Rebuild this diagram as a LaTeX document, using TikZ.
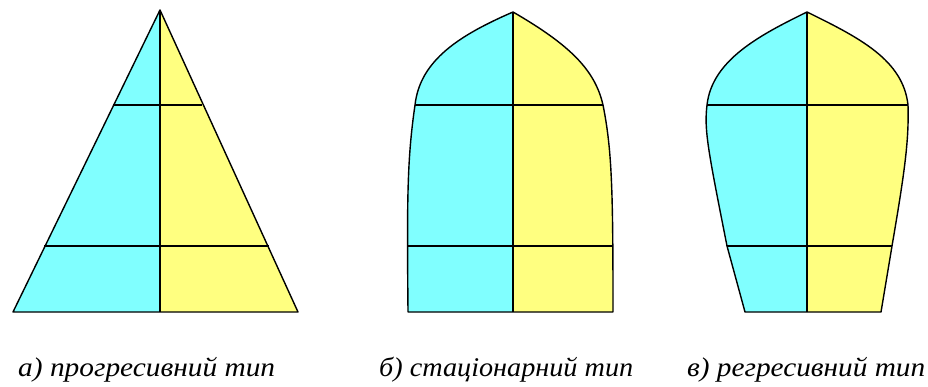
\documentclass[tikz,border=0pt]{standalone}
\usepackage{fontspec}
\setmainfont{Liberation Serif}
\definecolor{cyanfill}{HTML}{80FFFF}
\definecolor{yellowfill}{HTML}{FFFF80}
\newcommand{\fitcap}[2]{\resizebox{#1}{\height}{#2}}
\begin{document}
\begin{tikzpicture}[x=1pt,y=-1pt,
  outline/.style={black,line width=1.4pt,line join=round},
  divider/.style={black,line width=2pt},
  caption/.style={font=\fontsize{27}{30}\selectfont\itshape,inner sep=0pt,anchor=base west}]
\useasboundingbox (0,0) rectangle (928,387);
% a) progressive
\fill[cyanfill] (160,10) -- (13,312) -- (160,312) -- cycle;
\fill[yellowfill] (160,10) -- (298,312) -- (160,312) -- cycle;
\draw[divider] (113,105) -- (202,105);
\draw[divider] (44,246) -- (269,246);
\draw[divider] (160,10) -- (160,312);
\draw[outline] (160,10) -- (13,312) -- (298,312) -- cycle;
% b) stationary
\fill[cyanfill] (513,12) .. controls (460,35) and (420,60) .. (415,105)
  .. controls (407,160) and (407,200) .. (408,312) -- (513,312) -- cycle;
\fill[yellowfill] (513,12) .. controls (570,45) and (595,70) .. (603,105)
  .. controls (612,150) and (613,190) .. (613,312) -- (513,312) -- cycle;
\draw[divider] (415,105) -- (603,105);
\draw[divider] (407,246) -- (613,246);
\draw[divider] (513,12) -- (513,312);
\draw[outline] (513,12) .. controls (460,35) and (420,60) .. (415,105)
  .. controls (407,160) and (407,200) .. (408,312) -- (613,312)
  .. controls (613,190) and (612,150) .. (603,105)
  .. controls (595,70) and (570,45) .. (513,12) -- cycle;
% c) regressive
\fill[cyanfill] (807,12) .. controls (760,35) and (712,60) .. (707,105)
  .. controls (704,130) and (708,150) .. (727,246) -- (745,312) -- (807,312) -- cycle;
\fill[yellowfill] (807,12) .. controls (860,38) and (903,60) .. (908,105)
  .. controls (909,140) and (905,170) .. (892,246) -- (881,312) -- (807,312) -- cycle;
\draw[divider] (707,105) -- (908,105);
\draw[divider] (727,246) -- (892,246);
\draw[divider] (807,12) -- (807,312);
\draw[outline] (807,12) .. controls (760,35) and (712,60) .. (707,105)
  .. controls (704,130) and (708,150) .. (727,246) -- (745,312) -- (881,312)
  -- (892,246) .. controls (905,170) and (909,140) .. (908,105)
  .. controls (903,60) and (860,38) .. (807,12) -- cycle;
% captions
\node[caption] (capa) at (18,376) {\fitcap{257pt}{а) прогресивний тип}};
\node[caption] (capb) at (379,376) {\fitcap{254pt}{б) стаціонарний тип}};
\node[caption] (capc) at (687,376) {\fitcap{238pt}{в) регресивний тип}};
\end{tikzpicture}
\end{document}
